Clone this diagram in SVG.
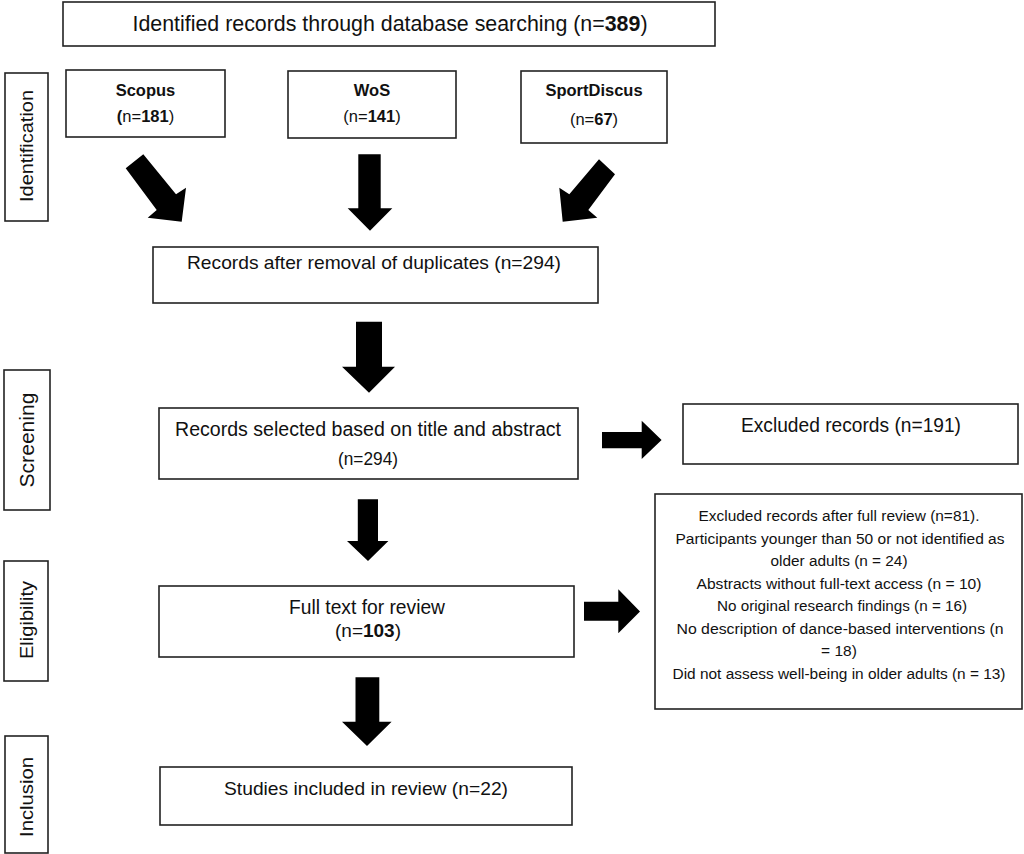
<svg xmlns="http://www.w3.org/2000/svg" width="1024" height="854" viewBox="0 0 1024 854">
<style>
.box{fill:#fff;stroke:#222;stroke-width:1.6}
.t{font-family:"Liberation Sans",Arial,sans-serif;fill:#111;text-anchor:middle}
.b{font-weight:bold}
.arr{fill:#000}
</style>
<rect width="1024" height="854" fill="#fff"/>
<g id="stage-identification">
<rect class="box" x="5" y="73" width="43" height="148"/>
<text class="t" font-size="19" transform="translate(33,146) rotate(-90)" textLength="112" lengthAdjust="spacingAndGlyphs">Identification</text>
</g>
<g id="stage-screening">
<rect class="box" x="4" y="370" width="46" height="140"/>
<text class="t" font-size="20" transform="translate(34,440) rotate(-90)" textLength="95" lengthAdjust="spacingAndGlyphs">Screening</text>
</g>
<g id="stage-eligibility">
<rect class="box" x="4" y="561" width="44" height="120"/>
<text class="t" font-size="19" transform="translate(33,620) rotate(-90)" textLength="78" lengthAdjust="spacingAndGlyphs">Eligibility</text>
</g>
<g id="stage-inclusion">
<rect class="box" x="5" y="736" width="43" height="117"/>
<text class="t" font-size="19" transform="translate(33,797) rotate(-90)" textLength="80" lengthAdjust="spacingAndGlyphs">Inclusion</text>
</g>
<g id="identified">
<rect class="box" x="63" y="2" width="652" height="44"/>
<text class="t" font-size="22" x="390" y="31" textLength="515" lengthAdjust="spacingAndGlyphs">Identified records through database searching (n=<tspan class="b">389</tspan>)</text>
</g>
<g id="scopus">
<rect class="box" x="66" y="70" width="159" height="67"/>
<text class="t b" font-size="16.5" x="145.5" y="96">Scopus</text>
<text class="t" font-size="16.5" x="145.5" y="122"><tspan class="b">(</tspan>n=<tspan class="b">181</tspan>)</text>
</g>
<g id="wos">
<rect class="box" x="288" y="71" width="168" height="67"/>
<text class="t b" font-size="16.5" x="372" y="96">WoS</text>
<text class="t" font-size="16.5" x="372" y="122">(n=<tspan class="b">141</tspan>)</text>
</g>
<g id="sportdiscus">
<rect class="box" x="521" y="71" width="146" height="72"/>
<text class="t b" font-size="16.5" x="594" y="96">SportDiscus</text>
<text class="t" font-size="16.5" x="594" y="125">(n=<tspan class="b">67</tspan>)</text>
</g>
<g id="duplicates">
<rect class="box" x="153" y="247" width="445" height="56"/>
<text class="t" font-size="19" x="374" y="269" textLength="374" lengthAdjust="spacingAndGlyphs">Records after removal of duplicates (n=294)</text>
</g>
<g id="screened">
<rect class="box" x="159" y="408" width="419" height="71"/>
<text class="t" font-size="19.5" x="368" y="436" textLength="386" lengthAdjust="spacingAndGlyphs">Records selected based on title and abstract</text>
<text class="t" font-size="19" x="368" y="465" textLength="60" lengthAdjust="spacingAndGlyphs">(n=294)</text>
</g>
<g id="excluded">
<rect class="box" x="683" y="404" width="335" height="60"/>
<text class="t" font-size="20" x="851" y="432" textLength="220" lengthAdjust="spacingAndGlyphs">Excluded records (n=191)</text>
</g>
<g id="fulltext">
<rect class="box" x="159" y="586" width="415" height="71"/>
<text class="t" font-size="19.5" x="367" y="614" textLength="156" lengthAdjust="spacingAndGlyphs">Full text for review</text>
<text class="t" font-size="19" x="368" y="637">(n=<tspan class="b">103</tspan>)</text>
</g>
<g id="excluded-full">
<rect class="box" x="655" y="494" width="367" height="215"/>
<g font-size="15.5">
<text class="t" x="839" y="521" textLength="281" lengthAdjust="spacingAndGlyphs">Excluded records after full review (n=81).</text>
<text class="t" x="840" y="544" textLength="329" lengthAdjust="spacingAndGlyphs">Participants younger than 50 or not identified as</text>
<text class="t" x="839" y="566" textLength="137" lengthAdjust="spacingAndGlyphs">older adults (n = 24)</text>
<text class="t" x="839" y="589" textLength="285" lengthAdjust="spacingAndGlyphs">Abstracts without full-text access (n = 10)</text>
<text class="t" x="842" y="611" textLength="250" lengthAdjust="spacingAndGlyphs">No original research findings (n = 16)</text>
<text class="t" x="840" y="634" textLength="327" lengthAdjust="spacingAndGlyphs">No description of dance-based interventions (n</text>
<text class="t" x="839" y="656">= 18)</text>
<text class="t" x="839" y="679" textLength="333" lengthAdjust="spacingAndGlyphs">Did not assess well-being in older adults (n = 13)</text>
</g>
</g>
<g id="included">
<rect class="box" x="160" y="767" width="412" height="58"/>
<text class="t" font-size="19" x="366" y="795" textLength="284" lengthAdjust="spacingAndGlyphs">Studies included in review (n=22)</text>
</g>
<g id="connectors">
<polygon class="arr" points="125.7,168.3 143.3,154.3 176,194.3 186,187.7 181.7,221.7 147.7,217.7 156.7,210"/>
<polygon class="arr" points="358.3,154.3 380.7,154.3 380.7,208.3 392.3,208.3 370,230.7 347.7,208.3 358.3,208.3"/>
<polygon class="arr" points="615,174.3 599,159.3 569.3,194.3 559.3,187.7 562.7,221.7 597.3,217.7 588.3,210"/>
<polygon class="arr" points="356,321.7 382,321.7 382,366.7 395,366.7 369,392.7 342,366.7 356,366.7"/>
<polygon class="arr" points="357.8,499.3 378,499.3 378,541 388.4,541 368,561 347,541 357.8,541"/>
<polygon class="arr" points="355.5,677.3 379.3,677.3 379.3,721.7 391.6,721.7 367,746 342,721.7 355.5,721.7"/>
<polygon class="arr" points="602,432 641.7,432 641.7,420.7 661.6,440 641.7,459 641.7,448.3 602,448.3"/>
<polygon class="arr" points="584,601.7 618.3,601.7 618.3,589.3 640,611.5 618.3,633.3 618.3,620.7 584,620.7"/>
</g>
</svg>
